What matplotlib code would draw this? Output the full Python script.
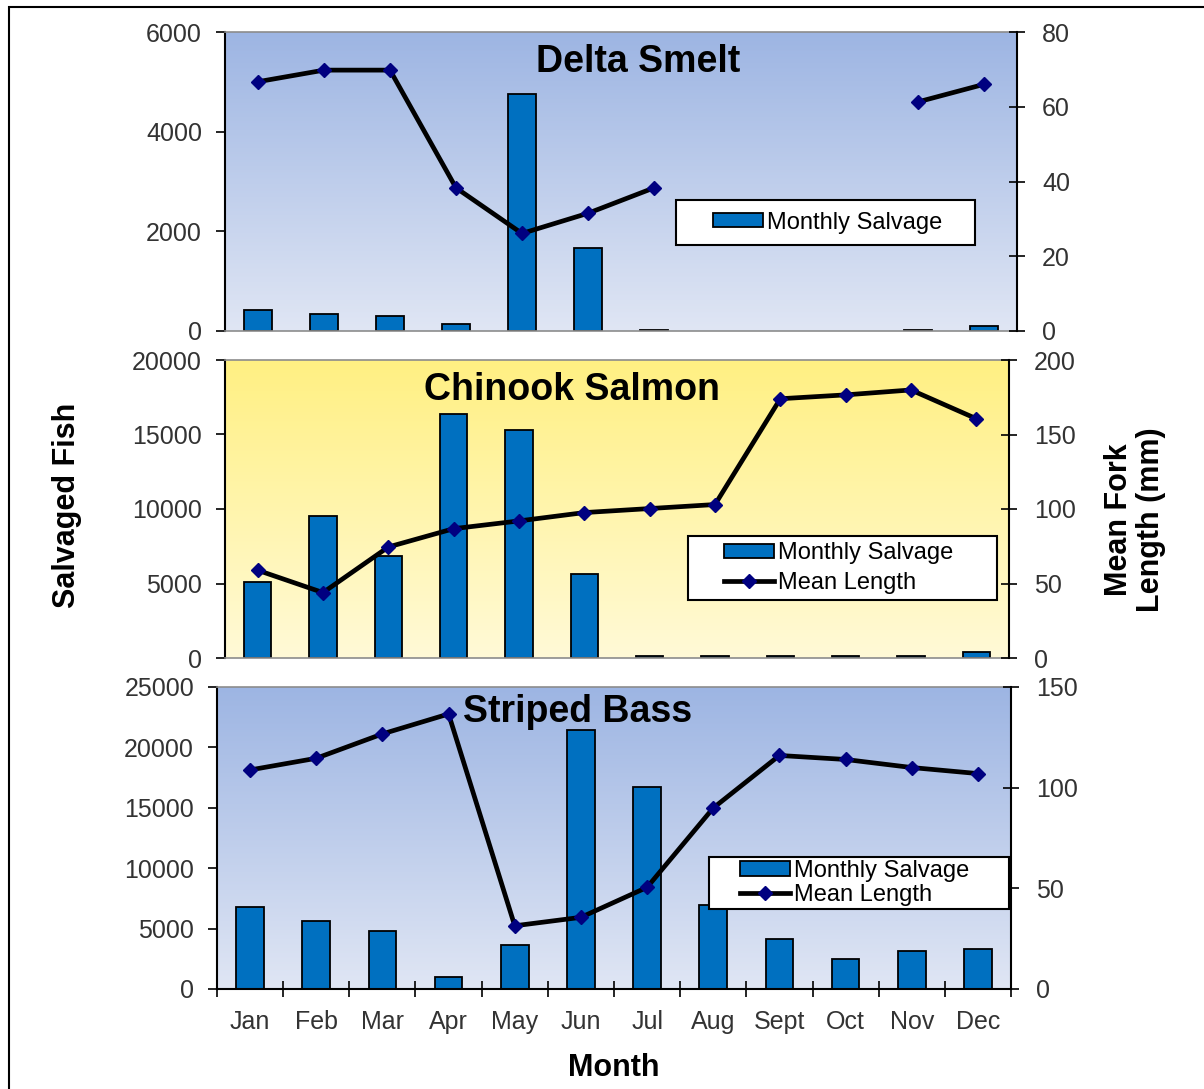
import numpy as np
import matplotlib
matplotlib.use("Agg")
import matplotlib.pyplot as plt
from matplotlib.patches import Rectangle, Patch
from matplotlib.lines import Line2D

plt.rcParams["font.family"] = ["Liberation Sans", "DejaVu Sans"]

months = ["Jan", "Feb", "Mar", "Apr", "May", "Jun", "Jul", "Aug", "Sept", "Oct", "Nov", "Dec"]
nan = np.nan

# salvage counts (left axis) and mean fork length in mm (right axis)
smelt_salvage = [430, 350, 310, 150, 4760, 1670, 30, nan, nan, nan, 20, 110]
smelt_length = [66.7, 69.8, 69.8, 38.3, 26.1, 31.5, 38.3, nan, nan, nan, 61.3, 66.0]
salmon_salvage = [5100, 9530, 6850, 16380, 15280, 5640, 120, 120, 120, 120, 120, 400]
salmon_length = [58.9, 43.9, 74.5, 86.8, 92.0, 97.6, 100.3, 103.0, 174.0, 176.6, 179.9, 160.6]
bass_salvage = [6760, 5630, 4780, 1020, 3620, 21440, 16700, 6950, 4140, 2480, 3150, 3300]
bass_length = [108.8, 114.6, 126.7, 136.6, 31.4, 35.6, 50.5, 89.9, 116.0, 114.0, 110.0, 107.0]

W, H = 1204, 1089
fig = plt.figure(figsize=(W / 100, H / 100), dpi=100)

BLUE_GRAD = ((0.616, 0.710, 0.890), (0.878, 0.902, 0.957))
YELL_GRAD = ((1.0, 0.941, 0.510), (1.0, 0.980, 0.843))

panels = [
    dict(box=(225, 32, 1017, 331), title="Delta Smelt", tpos=(0.521, 0.90),
         sal=smelt_salvage, ln=smelt_length, ylim=6000, yt=2000, rlim=80, rt=20,
         grad=BLUE_GRAD, legbox=(676, 200, 975, 245), leg_x=713, both=False, lsp=0.3),
    dict(box=(225, 360, 1009, 658), title="Chinook Salmon", tpos=(0.443, 0.90),
         sal=salmon_salvage, ln=salmon_length, ylim=20000, yt=5000, rlim=200, rt=50,
         grad=YELL_GRAD, legbox=(688, 536, 997, 600), leg_x=724, both=True, lsp=0.3),
    dict(box=(217, 687, 1011, 989), title="Striped Bass", tpos=(0.454, 0.918),
         sal=bass_salvage, ln=bass_length, ylim=25000, yt=5000, rlim=150, rt=50,
         grad=BLUE_GRAD, legbox=(709, 857, 1009, 909), leg_x=740, both=True, lsp=0.1),
]

x = np.arange(12)
for i, p in enumerate(panels):
    x0, y0, x1, y1 = p["box"]
    ax = fig.add_axes([x0 / W, 1 - y1 / H, (x1 - x0) / W, (y1 - y0) / H])
    ax.set_facecolor("none")
    top, bot = p["grad"]
    g = np.linspace(0, 1, 256)[:, None]
    img = np.array(top)[None, None, :] * (1 - g[..., None]) + np.array(bot)[None, None, :] * g[..., None]
    ax.imshow(img, extent=[0, 1, 0, 1], transform=ax.transAxes, aspect="auto", zorder=0)

    ax.bar(x, p["sal"], width=0.42, color="#0070C0", edgecolor="black", linewidth=1.3, zorder=2)
    ax.set_xlim(-0.5, 11.5)
    ax.set_ylim(0, p["ylim"])
    ax.set_yticks(np.arange(0, p["ylim"] + 1, p["yt"]))
    ax.tick_params(axis="y", direction="out", length=6.5, width=1.2, pad=10,
                   labelsize=18, labelcolor="#333333")

    ax.spines["top"].set_color("#8c8c8c")
    ax.spines["top"].set_linewidth(1.2)
    ax.spines["left"].set_linewidth(1.5)
    ax.spines["right"].set_visible(False)

    ax2 = ax.twinx()
    ax2.set_facecolor("none")
    ax2.plot(x, p["ln"], color="black", lw=3.4, marker="D", ms=7,
             markerfacecolor="#000080", markeredgecolor="#000080", zorder=3)
    ax2.set_ylim(0, p["rlim"])
    ax2.set_yticks(np.arange(0, p["rlim"] + 1, p["rt"]))
    ax2.tick_params(axis="y", direction="inout", length=12, width=1.2, pad=12,
                    labelsize=18, labelcolor="#333333")
    ax2.spines["right"].set_linewidth(1.5)
    ax2.spines["top"].set_visible(False)
    ax2.spines["left"].set_visible(False)
    ax2.spines["bottom"].set_visible(False)

    if i < 2:
        ax.spines["bottom"].set_color("#8c8c8c")
        ax.spines["bottom"].set_linewidth(1.2)
        ax.set_xticks([])
    else:
        ax.spines["bottom"].set_linewidth(1.5)
        ax.set_xticks(np.arange(-0.5, 12, 1.0))
        ax.set_xticklabels([])
        ax.set_xticks(x, minor=True)
        ax.set_xticklabels(months, minor=True)
        ax.tick_params(axis="x", which="major", direction="inout", length=12, width=1.2)
        ax.tick_params(axis="x", which="minor", length=0, pad=15, labelsize=18,
                       labelcolor="#333333")

    ax.text(p["tpos"][0], p["tpos"][1], p["title"], transform=ax.transAxes, ha="center",
            va="center", fontsize=27, fontweight="bold", zorder=5)

    lx0, ly0, lx1, ly1 = p["legbox"]
    ax2.add_patch(Rectangle(((lx0 - x0) / (x1 - x0), 1 - (ly1 - y0) / (y1 - y0)),
                            (lx1 - lx0) / (x1 - x0), (ly1 - ly0) / (y1 - y0),
                            transform=ax2.transAxes, facecolor="white", edgecolor="black",
                            linewidth=1.5, zorder=10))
    handles = [Patch(facecolor="#0070C0", edgecolor="black", linewidth=1.3)]
    labels = ["Monthly Salvage"]
    if p["both"]:
        handles.append(Line2D([], [], color="black", lw=3.4, marker="D", ms=7,
                              markerfacecolor="#000080", markeredgecolor="#000080"))
        labels.append("Mean Length")
    leg = ax2.legend(handles, labels, loc="center left", frameon=False, borderpad=0,
                     borderaxespad=0,
                     bbox_to_anchor=((p["leg_x"] - x0) / (x1 - x0),
                                     1 - ((ly0 + ly1) / 2 - y0) / (y1 - y0)),
                     fontsize=17, handlelength=2.1, handleheight=0.55, handletextpad=0.2,
                     labelspacing=p["lsp"])
    leg.set_zorder(11)

fig.text(67 / W, 1 - 505 / H, "Salvaged Fish", rotation=90, ha="center", va="center",
         fontsize=22, fontweight="bold")
fig.text(1135 / W, 1 - 520 / H, "Mean Fork\nLength (mm)", rotation=90, ha="center",
         va="center", fontsize=22, fontweight="bold", linespacing=1.1)
fig.text(614 / W, 1 - 1068 / H, "Month", ha="center", va="center", fontsize=22,
         fontweight="bold")

fig.add_artist(Rectangle((9 / W, -0.05), 1.2, 1.05 - 7 / H, transform=fig.transFigure,
                         facecolor="none", edgecolor="black", linewidth=1.5))

fig.savefig("out.png", dpi=100)
